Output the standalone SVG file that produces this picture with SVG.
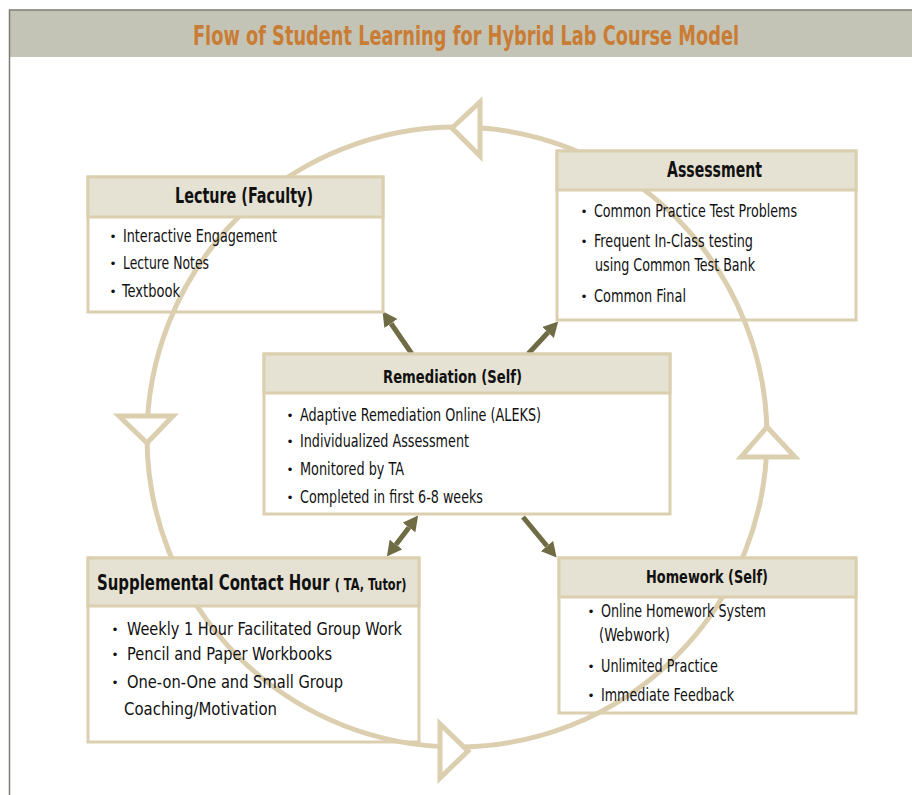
<svg xmlns="http://www.w3.org/2000/svg" width="912" height="795" viewBox="0 0 912 795">
<defs>
<style>
.frame{fill:none;stroke:#7c7c72;stroke-width:1.5}
.band{fill:#c4c4b6}
.title{font-family:"Liberation Sans Narrow","DejaVu Sans Condensed","Liberation Sans",sans-serif;font-weight:bold;font-size:27px;fill:#c97c34}
.ring{fill:none;stroke:#dccfb0;stroke-width:5}
.tri{fill:#ffffff;stroke:#dccfb0;stroke-width:5;stroke-linejoin:miter}
.body{fill:none;stroke:#dccfb0;stroke-width:3}
.head{fill:#e5e2d3;stroke:#dccfb0;stroke-width:3}
.h{font-family:"Liberation Sans Narrow","DejaVu Sans Condensed","Liberation Sans",sans-serif;font-weight:bold;fill:#111111}
.t{font-family:"Liberation Sans Narrow","DejaVu Sans Condensed","Liberation Sans",sans-serif;font-size:18px;fill:#111111}
.b{font-family:"Liberation Sans",sans-serif;font-size:13px;fill:#111111;text-anchor:middle}
.arr{fill:none;stroke:#6f6c45;stroke-width:5}
</style>
<marker id="ah" markerUnits="userSpaceOnUse" markerWidth="16" markerHeight="16" refX="0" refY="8" orient="auto-start-reverse" viewBox="0 0 16 16">
<path d="M0,0 L15,8 L0,16 z" fill="#6f6c45"/>
</marker>
</defs>

<rect x="0" y="0" width="912" height="795" fill="#ffffff"/>
<rect class="band" x="10" y="10" width="902" height="47"/>
<path class="frame" d="M9.5,795 V10 H912"/>
<text class="title" transform="translate(466,45) scale(0.732,1)" x="0" y="0" text-anchor="middle">Flow of Student Learning for Hybrid Lab Course Model</text>

<g id="cycle">
<circle class="ring" cx="457" cy="437" r="310"/>
<polygon class="tri" points="452,128 480,102 480,156"/>
<polygon class="tri" points="147,443 119,416 173,416"/>
<polygon class="tri" points="468,751 440,724 440,778"/>
<polygon class="tri" points="767,427 741,457 795,457"/>
</g>

<g id="connectors">
<line class="arr" x1="412" y1="354" x2="391" y2="323.5" marker-end="url(#ah)"/>
<line class="arr" x1="528" y1="354" x2="548" y2="332.5" marker-end="url(#ah)"/>
<line class="arr" x1="409" y1="527.5" x2="396" y2="544.5" marker-start="url(#ah)" marker-end="url(#ah)"/>
<line class="arr" x1="523" y1="517" x2="547" y2="546" marker-end="url(#ah)"/>
</g>

<g id="lecture">
<rect class="body" x="88" y="177" width="295" height="135"/>
<rect class="head" x="88" y="177" width="295" height="40"/>
<text class="h" x="244" y="203" font-size="21" text-anchor="middle" textLength="138" lengthAdjust="spacingAndGlyphs">Lecture (Faculty)</text>
<text class="b" x="113" y="241">•</text>
<text class="t" x="123" y="242" textLength="154" lengthAdjust="spacingAndGlyphs">Interactive Engagement</text>
<text class="b" x="113" y="268">•</text>
<text class="t" x="123" y="269" textLength="86" lengthAdjust="spacingAndGlyphs">Lecture Notes</text>
<text class="b" x="113" y="296">•</text>
<text class="t" x="122" y="297" textLength="58" lengthAdjust="spacingAndGlyphs">Textbook</text>
</g>

<g id="assessment">
<rect class="body" x="557" y="151" width="299" height="169"/>
<rect class="head" x="557" y="151" width="299" height="39"/>
<text class="h" x="714.5" y="177" font-size="21" text-anchor="middle" textLength="95" lengthAdjust="spacingAndGlyphs">Assessment</text>
<text class="b" x="584" y="216">•</text>
<text class="t" x="594" y="217" textLength="203" lengthAdjust="spacingAndGlyphs">Common Practice Test Problems</text>
<text class="b" x="584" y="246">•</text>
<text class="t" x="594" y="247" textLength="159" lengthAdjust="spacingAndGlyphs">Frequent In-Class testing</text>
<text class="t" x="595" y="271" textLength="160" lengthAdjust="spacingAndGlyphs">using Common Test Bank</text>
<text class="b" x="584" y="301">•</text>
<text class="t" x="594" y="302" textLength="92" lengthAdjust="spacingAndGlyphs">Common Final</text>
</g>

<g id="remediation">
<rect class="body" x="264" y="354" width="406" height="160" fill="#ffffff"/>
<rect class="head" x="264" y="354" width="406" height="39"/>
<text class="h" x="452.5" y="383" font-size="18" text-anchor="middle" textLength="139" lengthAdjust="spacingAndGlyphs">Remediation (Self)</text>
<text class="b" x="290" y="420">•</text>
<text class="t" x="300" y="421" textLength="241" lengthAdjust="spacingAndGlyphs">Adaptive Remediation Online (ALEKS)</text>
<text class="b" x="290" y="446">•</text>
<text class="t" x="300" y="447" textLength="169" lengthAdjust="spacingAndGlyphs">Individualized Assessment</text>
<text class="b" x="290" y="474">•</text>
<text class="t" x="300" y="475" textLength="104" lengthAdjust="spacingAndGlyphs">Monitored by TA</text>
<text class="b" x="290" y="502">•</text>
<text class="t" x="300" y="503" textLength="183" lengthAdjust="spacingAndGlyphs">Completed in first 6-8 weeks</text>
</g>

<g id="supplemental">
<rect class="body" x="88" y="558" width="331" height="184"/>
<rect class="head" x="88" y="558" width="331" height="48"/>
<text class="h" transform="translate(97,590) scale(0.79,1)" x="0" y="0" font-size="21">Supplemental Contact Hour <tspan font-size="16">( TA, Tutor)</tspan></text>
<text class="b" x="115" y="634" font-size="15">•</text>
<text class="t" x="127" y="635" font-size="22" textLength="275" lengthAdjust="spacingAndGlyphs">Weekly 1 Hour Facilitated Group Work</text>
<text class="b" x="115" y="659" font-size="15">•</text>
<text class="t" x="127" y="660" font-size="22" textLength="205" lengthAdjust="spacingAndGlyphs">Pencil and Paper Workbooks</text>
<text class="b" x="115" y="687" font-size="15">•</text>
<text class="t" x="127" y="688" font-size="22" textLength="216" lengthAdjust="spacingAndGlyphs">One-on-One and Small Group</text>
<text class="t" x="124" y="715" font-size="22" textLength="153" lengthAdjust="spacingAndGlyphs">Coaching/Motivation</text>
</g>

<g id="homework">
<rect class="body" x="559" y="558" width="297" height="155"/>
<rect class="head" x="559" y="558" width="297" height="39"/>
<text class="h" x="707" y="583" font-size="18" text-anchor="middle" textLength="122" lengthAdjust="spacingAndGlyphs">Homework (Self)</text>
<text class="b" x="591" y="616">•</text>
<text class="t" x="601" y="617" textLength="165" lengthAdjust="spacingAndGlyphs">Online Homework System</text>
<text class="t" x="599" y="641" textLength="71" lengthAdjust="spacingAndGlyphs">(Webwork)</text>
<text class="b" x="591" y="671">•</text>
<text class="t" x="601" y="672" textLength="117" lengthAdjust="spacingAndGlyphs">Unlimited Practice</text>
<text class="b" x="591" y="700">•</text>
<text class="t" x="601" y="701" textLength="133" lengthAdjust="spacingAndGlyphs">Immediate Feedback</text>
</g>
</svg>
